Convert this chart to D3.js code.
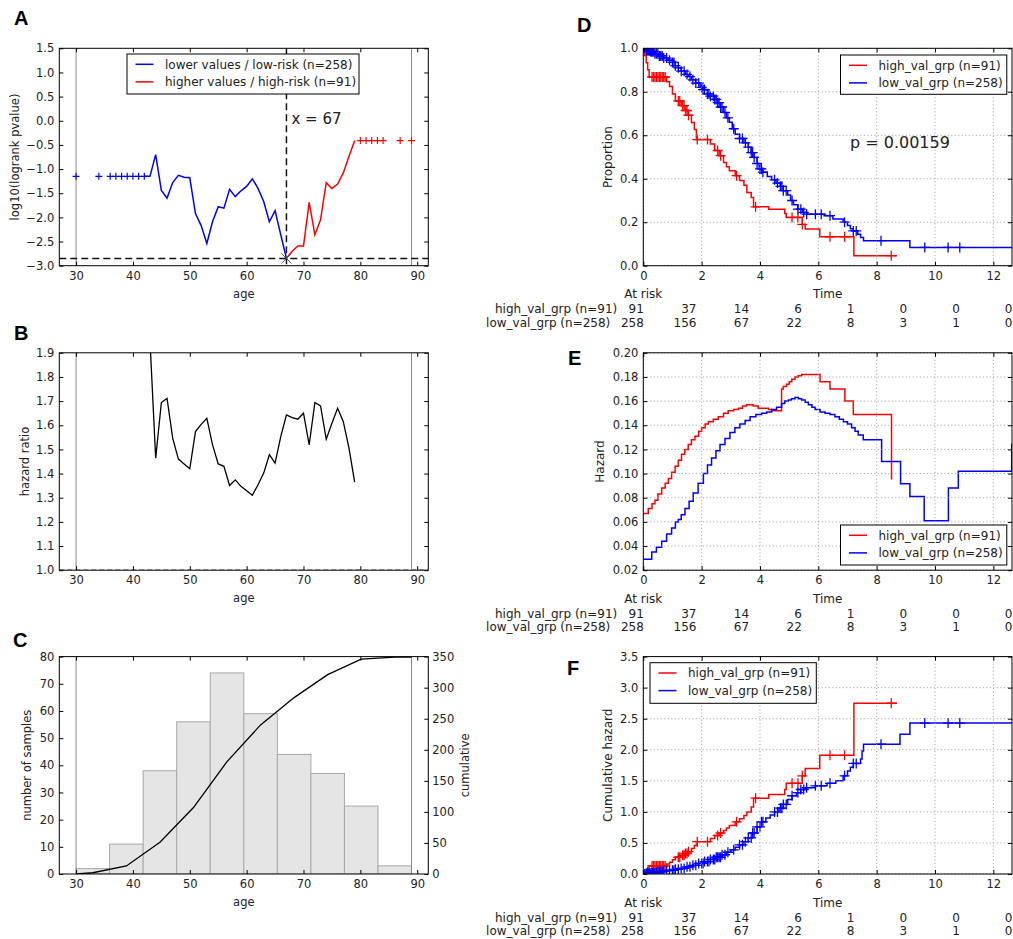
<!DOCTYPE html>
<html>
<head>
<meta charset="utf-8">
<script src="https://cdn.jsdelivr.net/npm/d3@7"></script>
<style>
  body { margin: 0; background: #fff; }
  text { font-family: "DejaVu Sans", sans-serif; fill: #222; }
  .letter { font-family: "Liberation Sans", Arial, sans-serif; font-weight: bold; font-size: 20px; fill: #000; }
</style>
</head>
<body>
<svg id="fig" width="1013" height="939"></svg>
<script>
// ---------- A: log10(logrank pvalue) by age cutoff
const pvLowAges = [42,43,44,45,46,47,48,49,50,51,52,53,54,55,56,57,58,59,60,61,62,63,64,65,66,67];
const pvLowVals = [-1.15,-1.15,-0.7,-1.44,-1.6,-1.28,-1.13,-1.17,-1.18,-1.92,-2.17,-2.54,-2.09,-1.78,-1.81,-1.42,-1.57,-1.45,-1.36,-1.2,-1.4,-1.67,-2.09,-1.86,-2.36,-2.85];
const pvHighAges = [67,68,69,70,71,72,73,74,75,76,77,78,79];
const pvHighVals = [-2.85,-2.7,-2.59,-2.59,-1.69,-2.36,-2.05,-1.28,-1.4,-1.31,-1.08,-0.74,-0.41];
const pvLowMarkAges = [30,34,36,37,38,39,40,41,42];
const pvLowMarkVals = [-1.15,-1.15,-1.15,-1.15,-1.15,-1.15,-1.15,-1.15,-1.15];
const pvHighMarkAges = [80,81,82,83,84,87,89];
const pvHighMarkVals = [-0.41,-0.41,-0.41,-0.41,-0.41,-0.41,-0.41];
const bestCut = 67, bestPv = -2.85;
const pvTicks = [-3,-2.5,-2,-1.5,-1,-0.5,0,0.5,1,1.5];
const pvLegend = ['lower values / low-risk (n=258)', 'higher values / high-risk (n=91)'];

// ---------- B: hazard ratio by age cutoff
const hrAges = [43,44,45,46,47,48,49,50,51,52,53,54,55,56,57,58,59,60,61,62,63,64,65,66,67,68,69,70,71,72,73,74,75,76,77,78,79];
const hrVals = [1.95,1.464,1.694,1.711,1.546,1.46,1.44,1.42,1.574,1.604,1.629,1.519,1.44,1.43,1.351,1.374,1.347,1.329,1.31,1.354,1.402,1.478,1.443,1.553,1.643,1.632,1.625,1.65,1.519,1.694,1.68,1.542,1.608,1.67,1.615,1.505,1.365];
const hrTicks = [1.0,1.1,1.2,1.3,1.4,1.5,1.6,1.7,1.8,1.9];

// ---------- C: age histogram + cumulative
const histEdges = [30,35.9,41.8,47.7,53.6,59.5,65.4,71.3,77.2,83.1,89];
const histCounts = [2,11,38,56,74,59,44,37,25,3];
const cumAges = [30,32.95,38.85,44.75,50.65,56.55,62.45,68.35,74.25,80.15,86.05,89];
const cumCounts = [0,2,13,51,107,181,240,284,321,346,349,349];
const countTicks = [0,10,20,30,40,50,60,70,80];
const cumTicks = [0,50,100,150,200,250,300,350];

const ageBounds = [30, 89];
const ageTicks = [30,40,50,60,70,80,90];

// ---------- D: Kaplan-Meier survival
const kmHighT = [0,0.05,0.1,0.15,0.2,0.8,0.9,1.0,1.1,1.3,1.45,1.55,1.65,1.75,1.82,2.3,2.45,2.6,2.75,2.85,2.95,3.15,3.3,3.45,3.55,3.7,3.78,4.3,4.85,4.9,5.45,5.55,6.05,7.22,8.7];
const kmHighS = [1.0,0.967,0.934,0.901,0.868,0.846,0.824,0.79,0.758,0.736,0.714,0.692,0.659,0.626,0.58,0.56,0.53,0.506,0.475,0.455,0.437,0.414,0.392,0.37,0.337,0.314,0.271,0.26,0.24,0.222,0.19,0.169,0.133,0.046,0.046];
const kmLowT = [0,0.1,0.25,0.4,0.55,0.7,0.85,1.0,1.1,1.2,1.3,1.45,1.55,1.65,1.8,1.95,2.05,2.2,2.3,2.45,2.55,2.65,2.75,2.85,2.95,3.05,3.15,3.3,3.45,3.6,3.7,3.8,3.9,3.97,4.1,4.25,4.4,4.55,4.7,4.8,4.95,5.05,5.15,5.3,5.45,5.6,6.2,6.5,6.85,7.0,7.1,7.2,7.35,7.45,7.55,9.14,12.64];
const kmLowS = [1.0,0.99,0.985,0.975,0.965,0.955,0.945,0.935,0.92,0.91,0.895,0.88,0.87,0.855,0.84,0.82,0.81,0.79,0.78,0.765,0.75,0.73,0.705,0.68,0.66,0.63,0.605,0.585,0.565,0.545,0.52,0.498,0.47,0.445,0.43,0.41,0.395,0.38,0.365,0.345,0.325,0.30,0.28,0.26,0.245,0.237,0.23,0.215,0.2,0.185,0.17,0.16,0.145,0.13,0.115,0.084,0.084];
const censHighT = [0.3,0.35,0.4,0.45,0.5,0.55,0.6,0.65,0.7,0.75,1.2,1.25,1.35,1.4,1.45,1.5,1.55,1.85,2.2,2.55,2.65,3.2,3.85,5.1,5.3,5.45,6.4,6.9,8.5];
const censLowT = [0.05,0.1,0.12,0.15,0.18,0.2,0.22,0.25,0.28,0.3,0.33,0.35,0.4,0.45,0.5,0.55,0.6,0.65,0.7,0.8,0.9,1.0,1.05,1.1,1.2,1.3,1.4,1.5,1.6,1.7,1.8,1.9,2.0,2.05,2.1,2.2,2.25,2.3,2.4,2.45,2.5,2.55,2.6,2.65,2.7,2.8,2.9,3.1,3.3,3.4,3.5,3.6,3.7,3.75,3.8,3.9,4.0,4.05,4.1,4.5,4.6,4.7,4.75,4.8,4.9,5.1,5.3,5.4,5.5,5.6,5.9,6.1,6.4,6.9,7.2,7.3,8.15,9.65,10.45,10.85];
const pText = 'p = 0.00159';

// ---------- E: smoothed hazard
const hzHighT = [0,0.17,0.3,0.4,0.5,0.63,0.75,0.86,0.97,1.09,1.2,1.31,1.42,1.54,1.65,1.77,1.9,2.0,2.12,2.23,2.4,2.57,2.75,2.91,3.1,3.26,3.4,3.54,3.65,3.77,3.94,4.29,4.4,4.74,4.8,4.91,5.0,5.09,5.2,5.31,5.43,6.06,6.4,6.91,7.2,8.51];
const hzHighV = [0.067,0.071,0.075,0.078,0.083,0.088,0.092,0.096,0.101,0.106,0.111,0.116,0.12,0.124,0.128,0.131,0.135,0.138,0.141,0.143,0.145,0.147,0.15,0.152,0.153,0.154,0.156,0.157,0.157,0.156,0.154,0.153,0.152,0.17,0.172,0.174,0.176,0.178,0.18,0.181,0.182,0.176,0.17,0.16,0.149,0.095];
const hzLowT = [0,0.29,0.45,0.63,0.8,0.97,1.1,1.2,1.3,1.43,1.57,1.71,1.88,2.06,2.2,2.34,2.49,2.63,2.8,2.97,3.14,3.31,3.49,3.66,3.86,4.06,4.23,4.4,4.57,4.74,4.85,4.97,5.08,5.2,5.32,5.43,5.55,5.66,5.78,5.89,6.06,6.23,6.4,6.57,6.72,6.86,7.0,7.14,7.26,7.37,7.54,8.17,8.82,9.14,9.63,10.46,10.8,12.63];
const hzLowV = [0.029,0.035,0.039,0.044,0.05,0.055,0.06,0.062,0.066,0.071,0.077,0.084,0.092,0.1,0.107,0.113,0.119,0.124,0.129,0.134,0.138,0.141,0.144,0.147,0.149,0.15,0.151,0.153,0.155,0.158,0.16,0.161,0.162,0.163,0.162,0.161,0.159,0.157,0.155,0.153,0.151,0.15,0.149,0.147,0.145,0.143,0.141,0.138,0.135,0.132,0.128,0.11,0.0915,0.081,0.061,0.088,0.102,0.125];

// ---------- F: cumulative hazard
const chHighH = [0,0.034,0.067,0.1,0.13,0.16,0.19,0.23,0.27,0.3,0.33,0.36,0.41,0.46,0.52,0.57,0.62,0.66,0.7,0.74,0.78,0.84,0.89,0.94,1.0,1.08,1.22,1.28,1.36,1.46,1.58,1.7,1.91,2.75,2.75];
const chLowT = [0,0.1,0.3,0.5,0.7,0.9,1.1,1.3,1.5,1.7,1.9,2.1,2.3,2.5,2.7,2.85,3.0,3.15,3.3,3.45,3.6,3.75,3.9,4.05,4.2,4.35,4.5,4.65,4.8,4.95,5.1,5.25,5.4,5.55,5.9,6.3,6.6,6.85,7.0,7.1,7.2,7.45,7.5,7.55,8.8,9.14,12.64];
const chLowH = [0,0.01,0.02,0.035,0.05,0.06,0.075,0.09,0.115,0.14,0.17,0.2,0.235,0.27,0.31,0.35,0.39,0.43,0.47,0.52,0.58,0.66,0.76,0.84,0.9,0.95,1.0,1.06,1.12,1.2,1.26,1.31,1.36,1.39,1.42,1.46,1.5,1.58,1.66,1.72,1.78,1.85,1.98,2.09,2.25,2.43,2.43];

const timeTicks = [0,2,4,6,8,10,12];
const propTicks = [0,0.2,0.4,0.6,0.8,1.0];
const hazTicks = [0.02,0.04,0.06,0.08,0.10,0.12,0.14,0.16,0.18,0.20];
const cumHazTicks = [0,0.5,1,1.5,2,2.5,3,3.5];
const grpLabels = ['high_val_grp (n=91)', 'low_val_grp (n=258)'];
const riskHigh = [91,37,14,6,1,0,0,0];
const riskLow = [258,156,67,22,8,3,1,0];

const RED = '#ff0000', BLUE = '#0000ff';

// ---------- layout
const svg = d3.select('#fig');
const LX = 59.3, LW = 369, RX = 643.3, RW = 368.7, PH = 217.4;
const TOPS = [48.3, 352.8, 656.6];

function makePanel(x0, y0, w, id) {
  const g = svg.append('g').attr('transform', `translate(${x0},${y0})`);
  g.append('clipPath').attr('id', id).append('rect').attr('width', w).attr('height', PH);
  const plot = g.append('g').attr('clip-path', `url(#${id})`);
  return {g, plot, w, h: PH};
}

function styleAxis(sel, fs) {
  sel.attr('font-size', fs).attr('font-family', '"DejaVu Sans", sans-serif');
  sel.select('.domain').remove();
  sel.selectAll('line').attr('stroke', '#000');
  sel.selectAll('text').attr('fill', '#222');
}

function axes(p, x, y, xt, yt, yf, fs, withRight = true) {
  const {g, w, h} = p;
  g.append('g').attr('transform', `translate(0,${h})`)
    .call(d3.axisBottom(x).tickValues(xt).tickFormat(d3.format('d')).tickSizeInner(-4).tickSizeOuter(0).tickPadding(6))
    .call(s => styleAxis(s, fs));
  g.append('g')
    .call(d3.axisTop(x).tickValues(xt).tickFormat('').tickSizeInner(-4).tickSizeOuter(0))
    .call(s => styleAxis(s, fs));
  g.append('g')
    .call(d3.axisLeft(y).tickValues(yt).tickFormat(yf).tickSizeInner(-4).tickSizeOuter(0).tickPadding(5))
    .call(s => styleAxis(s, fs));
  if (withRight) {
    g.append('g').attr('transform', `translate(${w},0)`)
      .call(d3.axisRight(y).tickValues(yt).tickFormat('').tickSizeInner(-4).tickSizeOuter(0))
      .call(s => styleAxis(s, fs));
  }
}

function frame(p) {
  p.g.append('rect').attr('width', p.w).attr('height', p.h)
    .attr('fill', 'none').attr('stroke', '#000').attr('stroke-width', 1);
}

function ylabel(text, cx, cy, fs) {
  svg.append('text').attr('transform', `translate(${cx},${cy}) rotate(-90)`)
    .attr('text-anchor', 'middle').attr('dy', '0.35em').attr('font-size', fs).text(text);
}

function letter(t, x, y) {
  svg.append('text').attr('class', 'letter').attr('x', x).attr('y', y).text(t);
}

function legend(x0, y0, w, h, labels, colors, fs) {
  const lg = svg.append('g').attr('transform', `translate(${x0},${y0})`);
  lg.append('rect').attr('width', w).attr('height', h).attr('fill', '#fff').attr('stroke', '#000').attr('stroke-width', 1);
  labels.forEach((lab, i) => {
    const yy = 10.3 + i * 17.6;
    lg.append('line').attr('x1', 8.5).attr('x2', 26.5).attr('y1', yy).attr('y2', yy)
      .attr('stroke', colors[i]).attr('stroke-width', 1.5);
    lg.append('text').attr('x', 38).attr('y', yy).attr('dy', '0.35em').attr('font-size', fs).text(lab);
  });
}

const plus = s => `M${-s},0H${s}M0,${-s}V${s}`;
const stepAt = (ts, vs, t) => vs[Math.max(0, d3.bisectRight(ts, t) - 1)];

// ---------- left panels share the age axis
const xAge = d3.scaleLinear().domain([27.05, 91.95]).range([0, LW]);

// Panel A
{
  const p = makePanel(LX, TOPS[0], LW, 'clipA');
  const y = d3.scaleLinear().domain([-3.0, 1.5]).range([p.h, 0]);
  ageBounds.forEach(a => p.plot.append('line').attr('x1', xAge(a)).attr('x2', xAge(a))
    .attr('y1', 0).attr('y2', p.h).attr('stroke', '#888').attr('stroke-width', 1));
  const line = (ax, vs) => d3.line().x(i => xAge(ax[i])).y(i => y(vs[i]))(d3.range(ax.length));
  p.plot.append('path').attr('d', line(pvLowAges, pvLowVals)).attr('fill', 'none').attr('stroke', BLUE).attr('stroke-width', 1.5);
  p.plot.append('path').attr('d', line(pvHighAges, pvHighVals)).attr('fill', 'none').attr('stroke', RED).attr('stroke-width', 1.5);
  p.plot.selectAll('.mlo').data(d3.range(pvLowMarkAges.length)).join('path')
    .attr('transform', i => `translate(${xAge(pvLowMarkAges[i])},${y(pvLowMarkVals[i])})`)
    .attr('d', plus(3.5)).attr('stroke', BLUE).attr('stroke-width', 1.2);
  p.plot.selectAll('.mhi').data(d3.range(pvHighMarkAges.length)).join('path')
    .attr('transform', i => `translate(${xAge(pvHighMarkAges[i])},${y(pvHighMarkVals[i])})`)
    .attr('d', plus(3.5)).attr('stroke', RED).attr('stroke-width', 1.2);
  // best cutoff guides
  p.plot.append('line').attr('x1', 0).attr('x2', p.w).attr('y1', y(bestPv)).attr('y2', y(bestPv))
    .attr('stroke', '#111').attr('stroke-width', 1.5).attr('stroke-dasharray', '7,4');
  p.plot.append('line').attr('x1', xAge(bestCut)).attr('x2', xAge(bestCut)).attr('y1', 0).attr('y2', p.h)
    .attr('stroke', '#111').attr('stroke-width', 1.5).attr('stroke-dasharray', '7,4');
  p.plot.append('path').attr('transform', `translate(${xAge(bestCut)},${y(bestPv)})`)
    .attr('d', 'M-5,-5L5,5M-5,5L5,-5').attr('stroke', '#555').attr('stroke-width', 1);
  p.g.append('text').attr('x', xAge(bestCut) + 5).attr('y', y(0.04)).attr('dy', '0.35em')
    .attr('font-size', 15).text(`x = ${bestCut}`);
  axes(p, xAge, y, ageTicks, pvTicks, d3.format('.1f'), 11.5);
  frame(p);
  legend(127, 54, 232, 40, pvLegend, [BLUE, RED], 12);
  svg.append('text').attr('x', LX + LW / 2).attr('y', 294.3).attr('dy', '0.35em').attr('text-anchor', 'middle').attr('font-size', 11.5).text('age');
  ylabel('log10(logrank pvalue)', 15, TOPS[0] + PH / 2, 11.5);
  letter('A', 14, 25);
}

// Panel B
{
  const p = makePanel(LX, TOPS[1], LW, 'clipB');
  const y = d3.scaleLinear().domain([1.0, 1.9]).range([p.h, 0]);
  ageBounds.forEach(a => p.plot.append('line').attr('x1', xAge(a)).attr('x2', xAge(a))
    .attr('y1', 0).attr('y2', p.h).attr('stroke', '#888').attr('stroke-width', 1));
  p.plot.append('line').attr('x1', 0).attr('x2', p.w).attr('y1', y(1.0) - 0.5).attr('y2', y(1.0) - 0.5)
    .attr('stroke', '#999').attr('stroke-width', 1).attr('stroke-dasharray', '5,3');
  p.plot.append('path')
    .attr('d', d3.line().x(i => xAge(hrAges[i])).y(i => y(hrVals[i]))(d3.range(hrAges.length)))
    .attr('fill', 'none').attr('stroke', '#000').attr('stroke-width', 1.3);
  axes(p, xAge, y, ageTicks, hrTicks, d3.format('.1f'), 11.5);
  frame(p);
  svg.append('text').attr('x', LX + LW / 2).attr('y', 598.3).attr('dy', '0.35em').attr('text-anchor', 'middle').attr('font-size', 11.5).text('age');
  ylabel('hazard ratio', 25, TOPS[1] + PH / 2, 11.5);
  letter('B', 14, 340);
}

// Panel C
{
  const p = makePanel(LX, TOPS[2], LW, 'clipC');
  const y = d3.scaleLinear().domain([0, 80]).range([p.h, 0]);
  const yc = d3.scaleLinear().domain([0, 350]).range([p.h, 0]);
  p.plot.selectAll('.bar').data(d3.range(histCounts.length)).join('rect')
    .attr('x', i => xAge(histEdges[i])).attr('width', i => xAge(histEdges[i + 1]) - xAge(histEdges[i]))
    .attr('y', i => y(histCounts[i])).attr('height', i => p.h - y(histCounts[i]))
    .attr('fill', '#e5e5e5').attr('stroke', '#a8a8a8').attr('stroke-width', 1);
  ageBounds.forEach(a => p.plot.append('line').attr('x1', xAge(a)).attr('x2', xAge(a))
    .attr('y1', 0).attr('y2', p.h).attr('stroke', '#888').attr('stroke-width', 1));
  p.plot.append('path')
    .attr('d', d3.line().x(i => xAge(cumAges[i])).y(i => yc(cumCounts[i]))(d3.range(cumAges.length)))
    .attr('fill', 'none').attr('stroke', '#000').attr('stroke-width', 1.3);
  axes(p, xAge, y, ageTicks, countTicks, d3.format('d'), 11.5, false);
  p.g.append('g').attr('transform', `translate(${p.w},0)`)
    .call(d3.axisRight(yc).tickValues(cumTicks).tickFormat(d3.format('d')).tickSizeInner(-4).tickSizeOuter(0).tickPadding(4))
    .call(s => styleAxis(s, 11.5));
  frame(p);
  svg.append('text').attr('x', LX + LW / 2).attr('y', 902.3).attr('dy', '0.35em').attr('text-anchor', 'middle').attr('font-size', 11.5).text('age');
  ylabel('number of samples', 26.7, TOPS[2] + PH / 2, 11.5);
  ylabel('cumulative', 465, TOPS[2] + PH / 2, 11.5);
  letter('C', 13, 647);
}

// ---------- right panels share the time axis
const xTime = d3.scaleLinear().domain([0, 12.64]).range([0, RW]);

function grid(p, y, yt) {
  const gg = p.g.append('g');
  timeTicks.forEach(t => gg.append('line').attr('x1', xTime(t)).attr('x2', xTime(t)).attr('y1', 0).attr('y2', p.h));
  yt.forEach(v => gg.append('line').attr('x1', 0).attr('x2', p.w).attr('y1', y(v)).attr('y2', y(v)));
  gg.selectAll('line').attr('stroke', '#999').attr('stroke-width', 1).attr('stroke-dasharray', '1,2.5');
}

function stepPath(p, y, ts, vs, color) {
  p.plot.append('path')
    .attr('d', d3.line().curve(d3.curveStepAfter).x(i => xTime(ts[i])).y(i => y(vs[i]))(d3.range(ts.length)))
    .attr('fill', 'none').attr('stroke', color).attr('stroke-width', 1.5);
}

function censors(p, y, ts, vs, cts, color) {
  p.plot.append('g').selectAll('path').data(cts).join('path')
    .attr('transform', t => `translate(${xTime(t)},${y(stepAt(ts, vs, t))})`)
    .attr('d', plus(5)).attr('stroke', color).attr('stroke-width', 1.3);
}

function atRisk(p, y0) {
  const col = d3.scalePoint().domain(d3.range(riskHigh.length)).range([0, p.w]);
  const g = svg.append('g').attr('transform', `translate(${RX},${y0})`);
  g.append('text').attr('x', 0).attr('y', PH + 28.5).attr('dy', '0.35em').attr('text-anchor', 'middle').attr('font-size', 12).text('At risk');
  g.append('text').attr('x', p.w / 2).attr('y', PH + 28.5).attr('dy', '0.35em').attr('text-anchor', 'middle').attr('font-size', 12).text('Time');
  [riskHigh, riskLow].forEach((row, r) => {
    const yy = PH + 43.5 + r * 13.5;
    g.append('text').attr('x', r === 0 ? -26.1 : -33).attr('y', yy).attr('dy', '0.35em')
      .attr('text-anchor', 'end').attr('font-size', 12).text(grpLabels[r]);
    g.selectAll(null).data(row).join('text')
      .attr('x', (d, i) => col(i) + 0.5).attr('y', yy).attr('dy', '0.35em')
      .attr('text-anchor', 'end').attr('font-size', 12).text(d => d);
  });
}

// Panel D
{
  const p = makePanel(RX, TOPS[0], RW, 'clipD');
  const y = d3.scaleLinear().domain([0, 1]).range([p.h, 0]);
  grid(p, y, propTicks);
  stepPath(p, y, kmHighT, kmHighS, RED);
  censors(p, y, kmHighT, kmHighS, censHighT, RED);
  stepPath(p, y, kmLowT, kmLowS, BLUE);
  censors(p, y, kmLowT, kmLowS, censLowT, BLUE);
  axes(p, xTime, y, timeTicks, propTicks, d3.format('.1f'), 11.5);
  frame(p);
  legend(840.5, 55, 166.3, 39.3, grpLabels, [RED, BLUE], 12);
  svg.append('text').attr('x', 850).attr('y', 142.3).attr('dy', '0.35em').attr('font-size', 16).text(pText);
  atRisk(p, TOPS[0]);
  ylabel('Proportion', 607.5, TOPS[0] + PH / 2, 12);
  letter('D', 577, 32);
}

// Panel E
{
  const p = makePanel(RX, TOPS[1], RW, 'clipE');
  const y = d3.scaleLinear().domain([0.02, 0.20]).range([p.h, 0]);
  grid(p, y, hazTicks);
  stepPath(p, y, hzHighT, hzHighV, RED);
  stepPath(p, y, hzLowT, hzLowV, BLUE);
  axes(p, xTime, y, timeTicks, hazTicks, d3.format('.2f'), 11.5);
  frame(p);
  legend(840.5, 525, 166.3, 40, grpLabels, [RED, BLUE], 12);
  atRisk(p, TOPS[1]);
  ylabel('Hazard', 600, TOPS[1] + PH / 2, 12);
  letter('E', 568, 365);
}

// Panel F
{
  const p = makePanel(RX, TOPS[2], RW, 'clipF');
  const y = d3.scaleLinear().domain([0, 3.5]).range([p.h, 0]);
  grid(p, y, cumHazTicks);
  stepPath(p, y, kmHighT, chHighH, RED);
  censors(p, y, kmHighT, chHighH, censHighT, RED);
  stepPath(p, y, chLowT, chLowH, BLUE);
  censors(p, y, chLowT, chLowH, censLowT, BLUE);
  axes(p, xTime, y, timeTicks, cumHazTicks, d3.format('.1f'), 11.5);
  frame(p);
  legend(650, 662.7, 166.3, 40.6, grpLabels, [RED, BLUE], 12);
  atRisk(p, TOPS[2]);
  ylabel('Cumulative hazard', 607.5, TOPS[2] + PH / 2, 12);
  letter('F', 567, 675);
}
</script>
</body>
</html>
